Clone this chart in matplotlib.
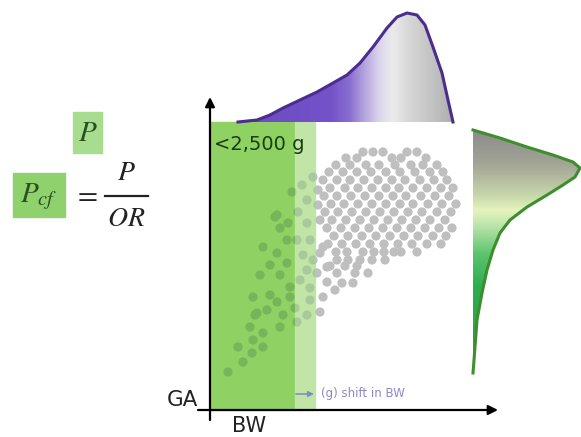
import numpy as np
import matplotlib; matplotlib.use("Agg")
import matplotlib.pyplot as plt
from matplotlib.colors import LinearSegmentedColormap
from matplotlib.patches import Rectangle, Polygon

plt.rcParams["font.family"] = ["DejaVu Sans"]
plt.rcParams["mathtext.fontset"] = "stix"

# drawing units = pixels of the 581x437 canvas (y grows downward)
# points inside the <2,500 g band (BW, GA)
low_pts = [(228,372),(243,362),(252,353),(238,347),(253,340),(263,347),(250,327),(263,333),
           (257,313),(267,310),(280,327),(283,315),(253,297),(270,295),(277,302),(290,297),
           (260,275),(270,265),(280,275),(287,263),(277,253),(290,287),(295,308),(297,322),
           (307,315),(310,300),(310,288),(300,280),(307,270),(317,273),(320,312),(323,297),
           (327,282),(313,260),(327,267),(303,255),(320,253),(292,192),(302,185),(313,177),
           (307,200),(298,212),(277,215),(288,223),(280,228),(307,223),(297,240),(287,240),
           (263,247),(310,240),(318,190),(318,205),(320,220),(323,247),(255,315),(275,217)]
# main cloud, row by row
cloud_ga = [152, 158, 165, 172, 180, 188, 196, 204, 212, 220, 228, 236, 244, 252, 260, 266, 273, 283, 290]
cloud_bw = [
    [363, 373, 383, 407, 417],
    [346, 357, 392, 401, 426],
    [336, 350, 366, 379, 395, 411, 423, 437],
    [329, 343, 357, 371, 386, 400, 415, 430, 443],
    [323, 337, 350, 364, 378, 392, 405, 420, 434, 447],
    [330, 345, 358, 372, 386, 399, 413, 427, 441, 453],
    [324, 337, 351, 365, 379, 393, 406, 421, 435, 449],
    [331, 344, 358, 372, 386, 400, 413, 428, 442, 456],
    [325, 338, 352, 366, 380, 394, 408, 422, 437, 451],
    [332, 346, 360, 374, 388, 402, 416, 430, 445],
    [327, 341, 355, 369, 383, 397, 411, 425, 439, 452],
    [334, 348, 362, 376, 390, 404, 418, 433, 446],
    [328, 342, 356, 370, 384, 398, 412, 427, 441],
    [336, 347, 363, 374, 384, 394, 401, 417],
    [337, 348, 360, 372, 385],
    [330, 345, 357],
    [337, 355, 368],
    [342, 353],
    [335],
]
# BW marginal density (top), outline
top_bw = [238, 257, 270, 283, 300, 317, 333, 347, 360, 373, 387, 397, 407, 417, 425, 433, 442, 448, 453]
top_y = [122, 120, 115, 108, 100, 92, 83, 75, 63, 47, 28, 17, 13, 15, 25, 47, 73, 100, 122]
# GA marginal density (right), outline
side_ga = [130, 138, 147, 155, 162, 168, 177, 185, 195, 207, 220, 233, 250, 270, 293, 320, 347, 373]
side_x = [473, 500, 527, 553, 573, 580, 575, 563, 547, 527, 510, 500, 493, 487, 482, 477, 475, 473]

fig = plt.figure(figsize=(5.81, 4.37), dpi=100)
ax = fig.add_axes([0, 0, 1, 1]); ax.axis("off")

# shaded bands
ax.add_patch(Rectangle((210, 122), 85, 288, color="#8fd162", zorder=1))
ax.add_patch(Rectangle((295, 122), 20, 288, color="#c0e5a6", zorder=1))

# scatter: same points, three clipped passes for the colour under the band
bw = [p[0] for p in low_pts] + [x for row in cloud_bw for x in row]
ga = [p[1] for p in low_pts] + [y for y, row in zip(cloud_ga, cloud_bw) for _ in row]
for col, clip in [("#bfbfbf", (315, 100, 200, 330)), ("#77b45a", (210, 100, 85, 330)), ("#a8c99a", (295, 100, 20, 330))]:
    sc = ax.scatter(bw, ga, s=44, color=col, edgecolors="none", zorder=2)
    r = Rectangle(clip[:2], clip[2], clip[3], transform=ax.transData, visible=False); ax.add_patch(r)
    sc.set_clip_path(r)

# top density with horizontal gradient
pur = LinearSegmentedColormap.from_list("pur", [(0, "#6b4bc2"), (0.43, "#7452c8"), (0.52, "#8a6ed0"), (0.59, "#b5a5df"),
                                               (0.66, "#dcd6ec"), (0.72, "#ebebeb"), (0.8, "#d6d6d6"), (0.94, "#bcbcbc"), (1, "#adadad")])
poly = Polygon(list(zip(top_bw, top_y)), closed=True, facecolor="none", edgecolor="none"); ax.add_patch(poly)
im = ax.imshow(np.linspace(0, 1, 256)[None, :], cmap=pur, extent=[238, 453, 122, 10], aspect="auto", zorder=1)
im.set_clip_path(poly)
ax.plot(top_bw, top_y, color="#4b2c8f", lw=2.2, zorder=3)

# right density with vertical gradient
grn = LinearSegmentedColormap.from_list("grn", [(0, "#8b8b8b"), (0.14, "#a3a596"), (0.27, "#c8d8aa"), (0.33, "#e6f3bf"),
                                               (0.4, "#b5e3a8"), (0.51, "#5cc46e"), (0.64, "#2fae50"), (1, "#2a9e45")])
poly2 = Polygon(list(zip(side_x, side_ga)), closed=True, facecolor="none", edgecolor="none"); ax.add_patch(poly2)
im2 = ax.imshow(np.linspace(0, 1, 256)[:, None], cmap=grn, extent=[472, 581, 373, 130], aspect="auto", zorder=1)
im2.set_clip_path(poly2)
ax.plot(side_x, side_ga, color="#3d8f2e", lw=2.2, zorder=3)

# axes arrows
ax.annotate("", xy=(210, 97), xytext=(210, 420), arrowprops=dict(arrowstyle="-|>", color="black", lw=1.6, mutation_scale=14, shrinkA=0, shrinkB=0), zorder=4)
ax.annotate("", xy=(498, 410), xytext=(198, 410), arrowprops=dict(arrowstyle="-|>", color="black", lw=1.6, mutation_scale=14, shrinkA=0, shrinkB=0), zorder=4)
ax.text(198, 400, "GA", ha="right", va="center", fontsize=15.5, color="#222")
ax.text(249, 426, "BW", ha="center", va="center", fontsize=15, color="#222")
ax.text(214, 145, "<2,500 g", ha="left", va="center", fontsize=14, color="#173d12", zorder=4)
ax.annotate("", xy=(314, 394), xytext=(296, 394), arrowprops=dict(arrowstyle="-|>", color="#7f8fc4", lw=1.2, mutation_scale=8, shrinkA=0, shrinkB=0))
ax.text(321, 394, "(g) shift in BW", ha="left", va="center", fontsize=8.5, color="#8f86c9")

# formula
ax.add_patch(Rectangle((73, 112), 29, 41, color="#a8dc8e"))
ax.text(87.5, 133, "$P$", ha="center", va="center", fontsize=21, color="#2c4f22")
ax.add_patch(Rectangle((13, 173), 52, 44, color="#8fd16c"))
ax.text(39, 197, "$P_{cf}$", ha="center", va="center", fontsize=21, color="#2c4f22")
ax.text(85, 194, "$=$", ha="center", va="center", fontsize=21, color="#222")
ax.text(126, 172, "$P$", ha="center", va="center", fontsize=20, color="#222")
ax.plot([105, 148], [196, 196], color="#222", lw=1.6)
ax.text(126, 218, "$OR$", ha="center", va="center", fontsize=20, color="#222")

ax.set_xlim(0, 581); ax.set_ylim(437, 0)
fig.savefig("out.png", dpi=100)
